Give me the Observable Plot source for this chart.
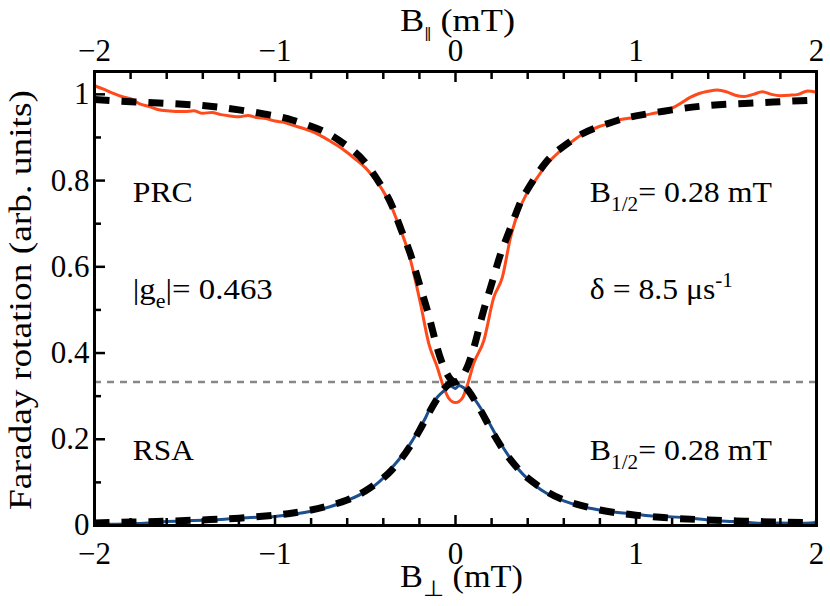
<!DOCTYPE html>
<html>
<head>
<meta charset="utf-8">
<script src="https://cdn.jsdelivr.net/npm/d3@7"></script>
<script src="https://cdn.jsdelivr.net/npm/@observablehq/plot@0.6"></script>
<style>
  html, body { margin: 0; padding: 0; background: white; }
  #chart svg { display: block; }
</style>
</head>
<body>
<div id="chart"></div>
<script>
// ---- Data ----
const prcB = [-2, -1.95, -1.9, -1.85, -1.8, -1.75, -1.7, -1.65, -1.6, -1.5, -1.45, -1.4, -1.35, -1.3, -1.25, -1.2, -1.15, -1.1, -1.05, -1.0, -0.95, -0.9, -0.85, -0.8, -0.75, -0.7, -0.65, -0.6, -0.55, -0.5, -0.45, -0.4, -0.35, -0.325, -0.259, -0.194, -0.148, -0.101, -0.065, -0.037, 0, 0.037, 0.065, 0.101, 0.157, 0.212, 0.259, 0.305, 0.332, 0.4, 0.45, 0.5, 0.55, 0.6, 0.65, 0.7, 0.75, 0.8, 0.85, 0.9, 0.95, 1.0, 1.05, 1.1, 1.15, 1.2, 1.25, 1.3, 1.35, 1.4, 1.45, 1.5, 1.55, 1.6, 1.65, 1.7, 1.75, 1.8, 1.85, 1.9, 1.95, 2.0];
const prcData = [1.02, 1.012, 1.003, 0.995, 0.99, 0.978, 0.972, 0.965, 0.962, 0.96, 0.962, 0.956, 0.958, 0.953, 0.95, 0.948, 0.951, 0.946, 0.944, 0.938, 0.935, 0.928, 0.922, 0.915, 0.905, 0.893, 0.88, 0.865, 0.848, 0.83, 0.805, 0.775, 0.735, 0.708, 0.631, 0.515, 0.422, 0.367, 0.32, 0.295, 0.285, 0.295, 0.325, 0.376, 0.429, 0.529, 0.575, 0.668, 0.708, 0.775, 0.805, 0.835, 0.857, 0.876, 0.892, 0.907, 0.917, 0.926, 0.932, 0.94, 0.944, 0.947, 0.952, 0.956, 0.96, 0.968, 0.98, 0.993, 1.002, 1.007, 1.01, 1.006, 0.998, 0.995, 1.0, 1.006, 1.0, 0.997, 0.998, 1.0, 1.008, 1.005];

const rsaB = [-2, -1.9, -1.8, -1.7, -1.6, -1.5, -1.4, -1.3, -1.2, -1.1, -1.0, -0.9, -0.8, -0.7, -0.6, -0.5, -0.45, -0.4, -0.35, -0.3, -0.25, -0.2, -0.166, -0.139, -0.1, -0.06, -0.03, 0, 0.02, 0.05, 0.1, 0.15, 0.2, 0.25, 0.3, 0.35, 0.4, 0.45, 0.5, 0.6, 0.7, 0.8, 0.9, 1.0, 1.1, 1.2, 1.3, 1.4, 1.5, 1.6, 1.7, 1.8, 1.9, 2.0];
const rsaData = [0.004, 0.003, 0.004, 0.006, 0.009, 0.011, 0.012, 0.014, 0.017, 0.019, 0.021, 0.026, 0.033, 0.043, 0.058, 0.078, 0.092, 0.11, 0.135, 0.16, 0.19, 0.225, 0.25, 0.274, 0.298, 0.314, 0.324, 0.318, 0.325, 0.318, 0.296, 0.265, 0.228, 0.19, 0.158, 0.13, 0.108, 0.09, 0.076, 0.057, 0.044, 0.036, 0.03, 0.026, 0.022, 0.02, 0.017, 0.013, 0.01, 0.008, 0.005, 0.006, 0.005, 0.007];

const fitB = [-2, -1.8, -1.6, -1.4, -1.2, -1.0, -0.9, -0.8, -0.7, -0.6, -0.5, -0.4, -0.35, -0.3, -0.25, -0.2, -0.15, -0.1, -0.05, 0, 0.05, 0.1, 0.15, 0.2, 0.25, 0.3, 0.35, 0.4, 0.5, 0.6, 0.7, 0.8, 0.9, 1.0, 1.2, 1.4, 1.6, 1.8, 2.0];
const prcFit = [0.988, 0.983, 0.979, 0.974, 0.964, 0.95, 0.94, 0.926, 0.908, 0.88, 0.842, 0.78, 0.74, 0.685, 0.63, 0.56, 0.49, 0.41, 0.354, 0.333, 0.354, 0.41, 0.49, 0.56, 0.63, 0.685, 0.74, 0.78, 0.842, 0.88, 0.908, 0.926, 0.94, 0.95, 0.964, 0.974, 0.979, 0.983, 0.987];
const rsaFit = [0.006, 0.008, 0.01, 0.013, 0.017, 0.024, 0.029, 0.036, 0.046, 0.059, 0.08, 0.11, 0.13, 0.155, 0.185, 0.22, 0.259, 0.295, 0.323, 0.333, 0.323, 0.295, 0.259, 0.22, 0.185, 0.155, 0.13, 0.11, 0.08, 0.059, 0.046, 0.036, 0.029, 0.024, 0.017, 0.013, 0.01, 0.008, 0.006];

const refLevel = [0.333];

const xMajor = [-2, -1, 0, 1, 2];
const xMinor = [-1.8, -1.6, -1.4, -1.2, -0.8, -0.6, -0.4, -0.2, 0.2, 0.4, 0.6, 0.8, 1.2, 1.4, 1.6, 1.8];
const yMajor = [0, 0.2, 0.4, 0.6, 0.8, 1];
const yMinor = [0.1, 0.3, 0.5, 0.7, 0.9];

const xTitleBottom = ["B", "⊥", " (mT)"];
const xTitleTop = ["B", "‖", " (mT)"];
const yTitle = "Faraday rotation (arb. units)";

// annotation texts, anchored in data coordinates
const annotations = [
  {x: -1.785, y: 0.749, segs: [["n", "PRC"]]},
  {x: -1.785, y: 0.525, segs: [["n", "|g"], ["sub", "e"], ["n", "|= 0.463"]]},
  {x: -1.785, y: 0.15, segs: [["n", "RSA"]]},
  {x: 0.747, y: 0.749, segs: [["n", "B"], ["sub", "1/2"], ["n", "= 0.28 mT"]]},
  {x: 0.747, y: 0.525, segs: [["n", "δ = 8.5 μs"], ["sup", "-1"]]},
  {x: 0.747, y: 0.15, segs: [["n", "B"], ["sub", "1/2"], ["n", "= 0.28 mT"]]}
];
// rendered widths (px) of the annotations, to match the reference's wider typeface
const annWidths = [60, 140, 61, 182, 143, 182];

const prc = prcB.map((b, i) => ({b, v: prcData[i]}));
const rsa = rsaB.map((b, i) => ({b, v: rsaData[i]}));
const fitP = fitB.map((b, i) => ({b, v: prcFit[i]}));
const fitR = fitB.map((b, i) => ({b, v: rsaFit[i]}));

const fmt = d => d < 0 ? "\u2212" + Math.abs(d) : String(d);
const FONT = "'Liberation Serif', 'Times New Roman', serif";

const plot = Plot.plot({
  width: 830,
  height: 606,
  marginLeft: 94,
  marginRight: 14,
  marginTop: 71,
  marginBottom: 81,
  x: {domain: [-2, 2]},
  y: {domain: [0, 1.053]},
  style: {fontFamily: FONT, fontSize: "31px", color: "black", background: "white"},
  marks: [
    Plot.ruleY(refLevel, {stroke: "#888", strokeWidth: 2.5, strokeDasharray: "7,6"}),
    Plot.line(prc, {x: "b", y: "v", stroke: "#ff4a1c", strokeWidth: 3, curve: "monotone-x"}),
    Plot.line(rsa, {x: "b", y: "v", stroke: "#1b4f8e", strokeWidth: 3, curve: "monotone-x"}),
    Plot.line(fitP, {x: "b", y: "v", stroke: "black", strokeWidth: 7, strokeDasharray: "15,12", curve: "natural", strokeLinecap: "butt"}),
    Plot.line(fitR, {x: "b", y: "v", stroke: "black", strokeWidth: 7, strokeDasharray: "15,12", curve: "natural", strokeLinecap: "butt"}),
    Plot.frame({stroke: "black", strokeWidth: 3}),
    // inward ticks
    Plot.axisX(xMajor, {anchor: "bottom", tickSize: -10, strokeWidth: 2.5, tickFormat: () => "", label: null}),
    Plot.axisX(xMinor, {anchor: "bottom", tickSize: -7, strokeWidth: 2.5, tickFormat: () => "", label: null}),
    Plot.axisX(xMajor, {anchor: "top", tickSize: -10, strokeWidth: 2.5, tickFormat: () => "", label: null}),
    Plot.axisX(xMinor, {anchor: "top", tickSize: -7, strokeWidth: 2.5, tickFormat: () => "", label: null}),
    Plot.axisY(yMajor, {anchor: "left", tickSize: -11, strokeWidth: 2.5, tickFormat: () => "", label: null}),
    Plot.axisY(yMinor, {anchor: "left", tickSize: -7, strokeWidth: 2.5, tickFormat: () => "", label: null}),
    // tick labels
    Plot.axisX(xMajor, {anchor: "bottom", tickSize: 0, tickPadding: 16, tickFormat: fmt, label: null, fontSize: 31}),
    Plot.axisX(xMajor, {anchor: "top", tickSize: 0, tickPadding: 11, tickFormat: fmt, label: null, fontSize: 31}),
    Plot.axisY(yMajor, {anchor: "left", tickSize: 0, tickPadding: 5, tickFormat: d => String(d), label: null, fontSize: 31})
  ]
});

document.getElementById("chart").appendChild(plot);

// ---- titles and annotations placed with the plot's own scales ----
const sx = plot.scale("x"), sy = plot.scale("y");
const svg = d3.select(plot);
const [x0, x1] = sx.range;
const [y0, y1] = sy.range; // y0 bottom, y1 top
const cx = (x0 + x1) / 2;

function rich(g, segs, subSize) {
  let shift = 0;
  segs.forEach(([kind, txt]) => {
    const t = g.append("tspan").text(txt);
    if (kind === "sub") { t.attr("font-size", subSize).attr("dy", 9 - shift); shift = 9; }
    else if (kind === "sup") { t.attr("font-size", subSize).attr("dy", -12 - shift); shift = -12; }
    else { if (shift !== 0) t.attr("dy", -shift); shift = 0; }
  });
}

const bottomT = svg.append("text")
  .attr("x", cx - 55).attr("y", y0 + 62)
  .attr("text-anchor", "start").attr("font-family", FONT).attr("font-size", 31).attr("fill", "black")
  .attr("textLength", 123).attr("lengthAdjust", "spacingAndGlyphs");
bottomT.append("tspan").text(xTitleBottom[0]);
bottomT.append("tspan").text(xTitleBottom[1]).attr("font-size", 22).attr("dy", 9);
bottomT.append("tspan").text(xTitleBottom[2]).attr("dy", -9);

const topT = svg.append("text")
  .attr("x", cx - 55).attr("y", y1 - 40)
  .attr("text-anchor", "start").attr("font-family", FONT).attr("font-size", 31).attr("fill", "black")
  .attr("textLength", 115).attr("lengthAdjust", "spacingAndGlyphs");
topT.append("tspan").text(xTitleTop[0]);
topT.append("tspan").text(xTitleTop[1]).attr("font-size", 22).attr("dy", 10);
topT.append("tspan").text(xTitleTop[2]).attr("dy", -10);

svg.append("text")
  .attr("transform", `translate(${x0 - 63},${(y0 + y1) / 2 + 2}) rotate(-90)`)
  .attr("text-anchor", "middle").attr("font-family", FONT).attr("font-size", 31).attr("fill", "black")
  .attr("textLength", 420).attr("lengthAdjust", "spacingAndGlyphs")
  .text(yTitle);

annotations.forEach((a, i) => {
  const g = svg.append("text")
    .attr("x", sx.apply(a.x)).attr("y", sy.apply(a.y))
    .attr("text-anchor", "start")
    .attr("font-family", FONT).attr("font-size", 30).attr("fill", "black")
    .attr("textLength", annWidths[i]).attr("lengthAdjust", "spacingAndGlyphs");
  rich(g, a.segs, 20);
});
</script>
</body>
</html>
